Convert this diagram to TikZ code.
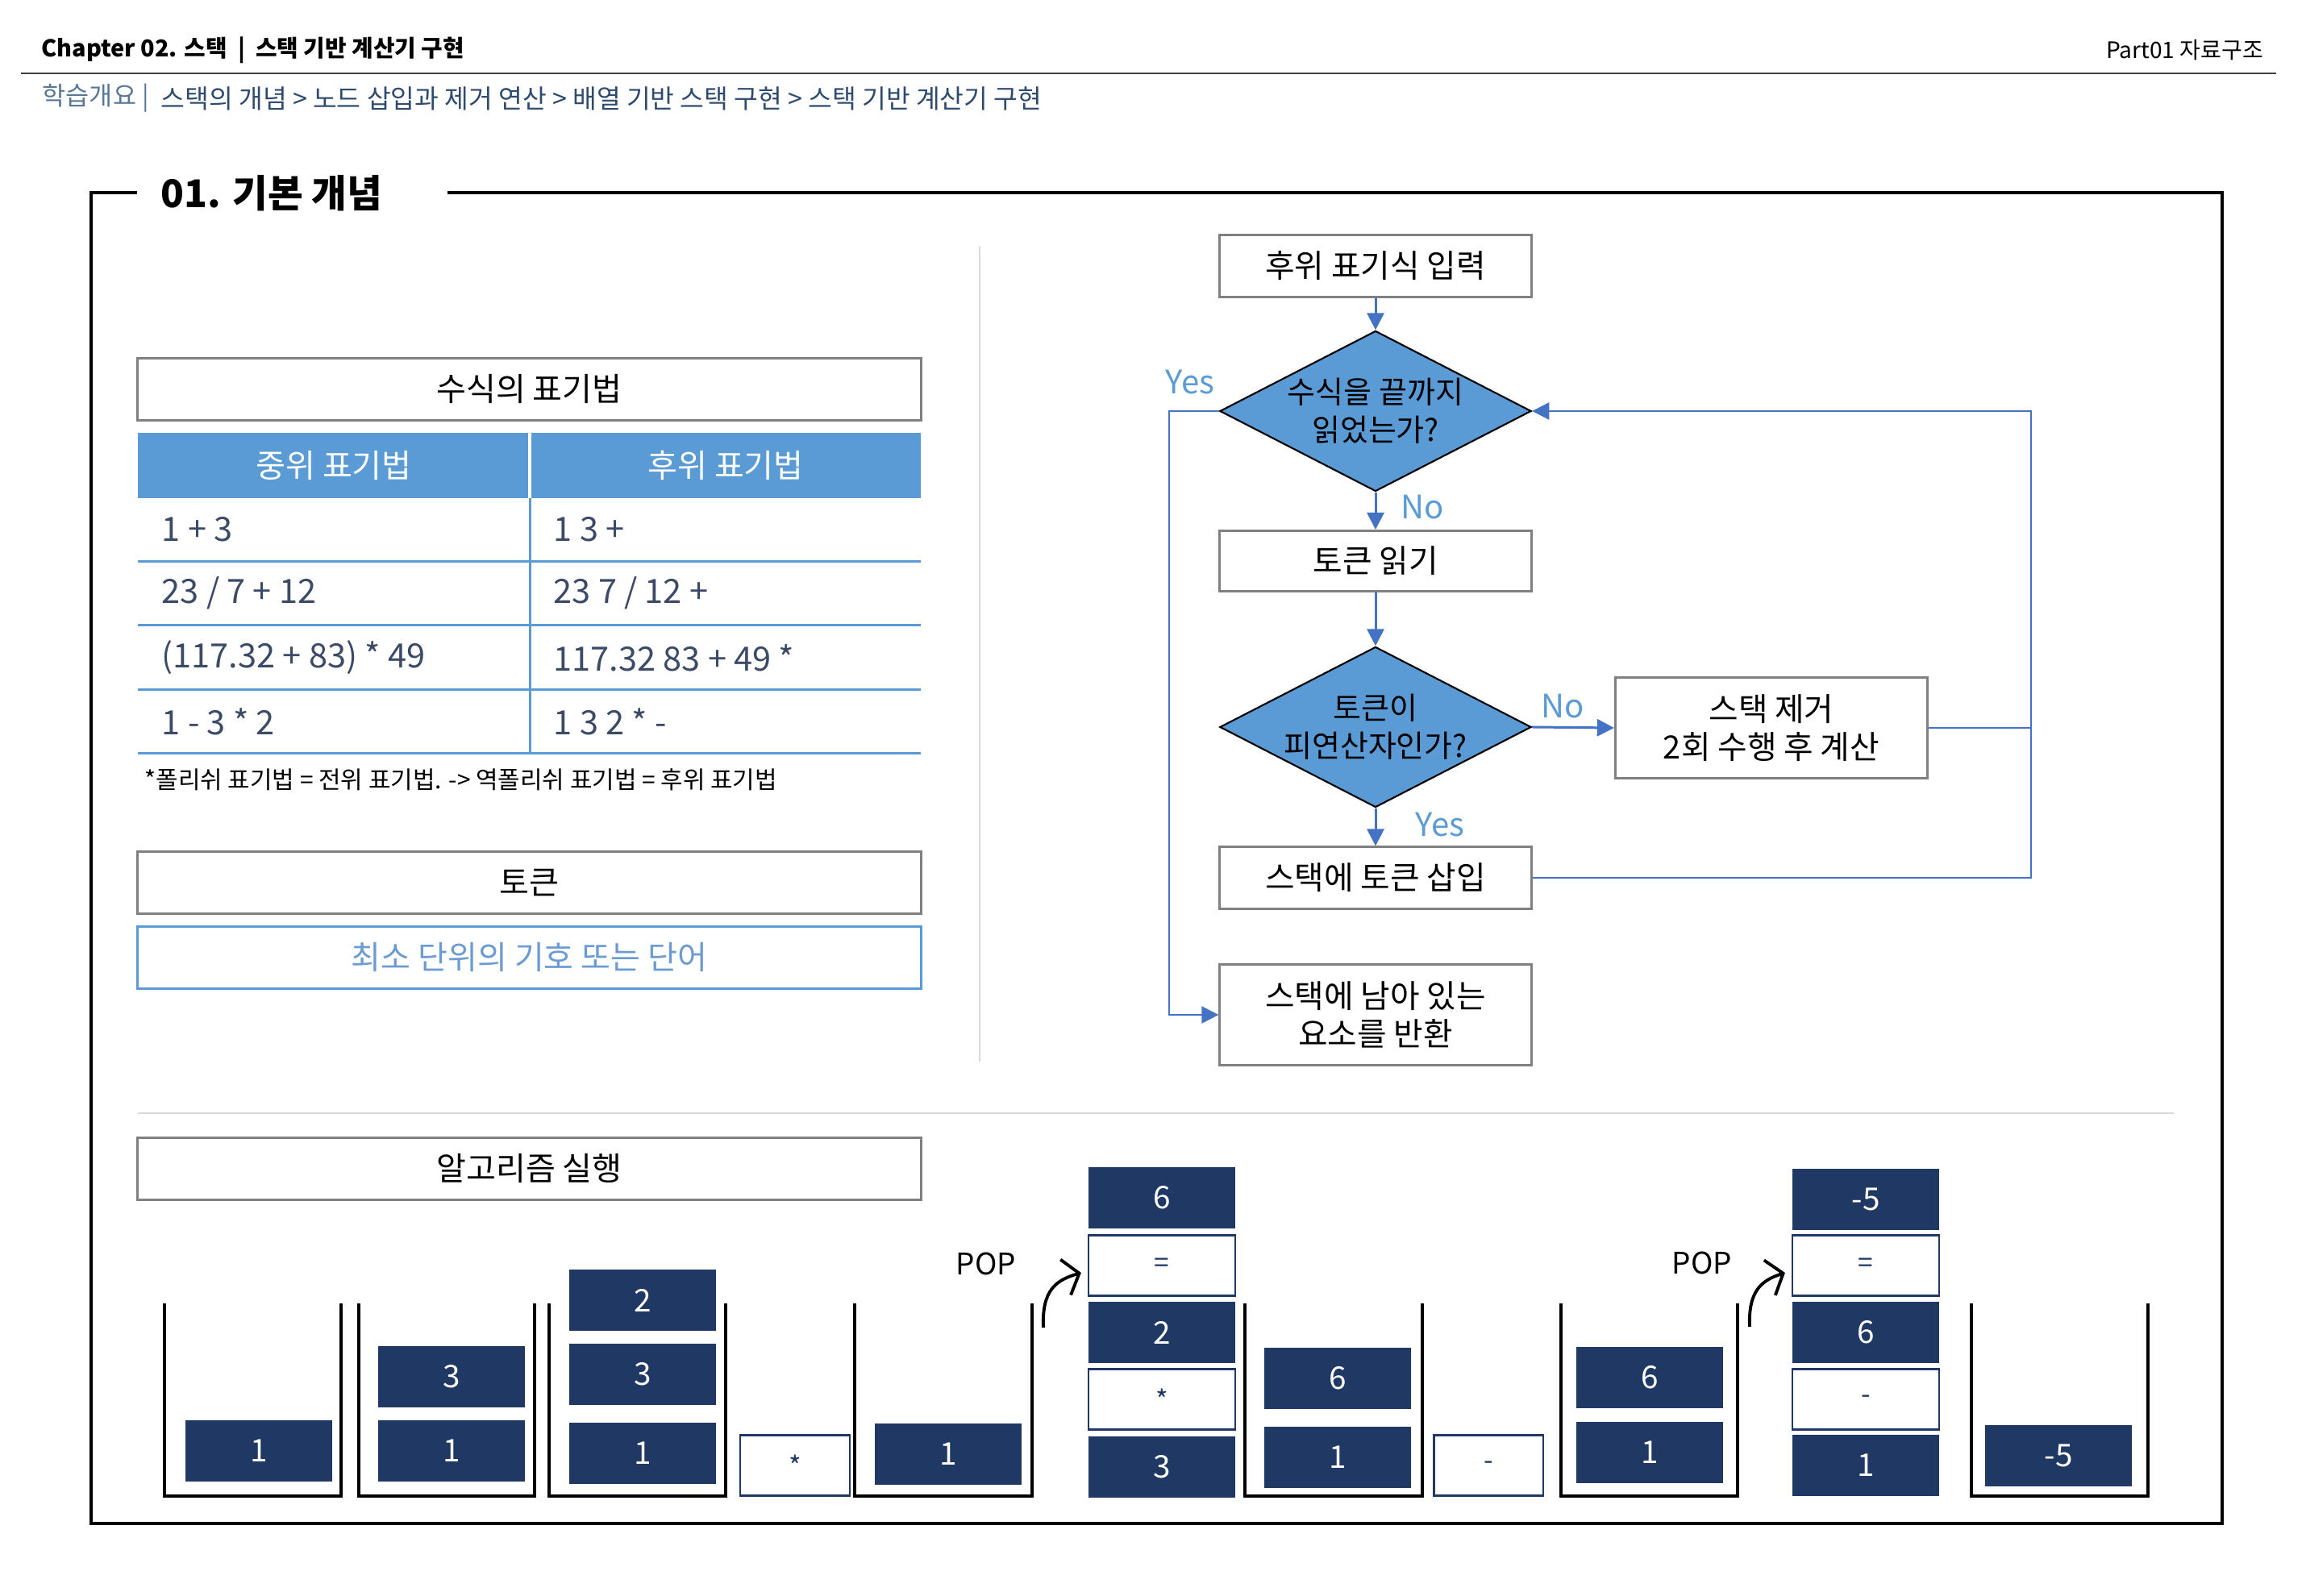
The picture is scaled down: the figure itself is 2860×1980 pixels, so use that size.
\documentclass[tikz,border=0pt]{standalone}
\usepackage{fontspec}
\setmainfont{Noto Sans CJK KR}
\usetikzlibrary{arrows.meta}
\usetikzlibrary{shapes.geometric}

\definecolor{flowblue}{HTML}{5B9BD5}
\definecolor{hdblue}{HTML}{5B9BD5}
\definecolor{arrowblue}{HTML}{4472C4}
\definecolor{boxgray}{HTML}{808080}
\definecolor{navy}{HTML}{203864}
\definecolor{rowtext}{HTML}{3B4A66}
\definecolor{crumbgray}{HTML}{5A7896}
\definecolor{crumbblue}{HTML}{2E4A6E}
\definecolor{sepgray}{HTML}{D9D9D9}
\definecolor{tokblue}{HTML}{6C9BD2}
\definecolor{rulegray}{HTML}{404040}

\tikzset{
  flowbox/.style={draw=boxgray, line width=0.85pt, fill=white, minimum width=3.86cm,
    inner sep=0pt, align=center, font=\fontsize{11.3}{13.5}\selectfont},
  decision/.style={diamond, draw=black, line width=0.6pt, fill=flowblue, aspect=1.94,
    minimum width=3.86cm, minimum height=1.99cm, inner sep=-3pt, align=center,
    font=\fontsize{10.8}{13.5}\selectfont},
  flowline/.style={draw=arrowblue, line width=0.85pt},
  loopline/.style={draw=arrowblue, line width=0.6pt},
  yesno/.style={text=flowblue, font=\fontsize{11.4}{13}\selectfont},
  titlebox/.style={draw=boxgray, line width=0.85pt, minimum width=9.71cm, minimum height=0.77cm,
    inner sep=0pt, font=\fontsize{11.4}{13}\selectfont},
  cell/.style={anchor=west, inner sep=0pt, text=rowtext, font=\fontsize{11.8}{13}\selectfont},
  rowline/.style={draw=hdblue, line width=0.85pt},
  tok/.style={fill=navy, text=white, minimum width=1.82cm, minimum height=0.75cm,
    inner sep=0pt, font=\fontsize{11}{13}\selectfont},
  optok/.style={fill=white, draw=navy, line width=0.6pt, text=navy, minimum width=1.82cm,
    minimum height=0.75cm, inner sep=0pt, font=\fontsize{9.5}{10}\selectfont},
  wall/.style={draw=black, line width=1.15pt},
  popline/.style={draw=black, line width=1.1pt, -{Straight Barb[length=5pt,width=13pt]}},
}

\begin{document}
\begin{tikzpicture}[x=0.01cm, y=-0.01cm, >={Triangle[length=6pt,width=6pt]}]
    \useasboundingbox (0,0) rectangle (2860,1980);
    %% header
    \node[anchor=west, inner sep=0pt, font=\fontsize{8.2}{10}\selectfont\bfseries] (chap) at (51,62)
      {Chapter 02. 스택 \ | \ 스택 기반 계산기 구현};
    \node[anchor=east, inner sep=0pt, font=\fontsize{8}{10}\selectfont] (part) at (2808,62) {Part01 자료구조};
    \draw[rulegray, line width=0.6pt] (26,91) -- (2823,91);
    \node[anchor=west, inner sep=0pt, text=crumbgray, font=\fontsize{9}{10}\selectfont] (crumb) at (52,122) {학습개요 |};
    \node[anchor=west, inner sep=0pt, text=crumbblue, font=\fontsize{9.2}{10}\selectfont] (path) at (199,122)
      {스택의 개념 > 노드 삽입과 제거 연산 > 배열 기반 스택 구현 > 스택 기반 계산기 구현};
    %% frame
    \draw[line width=1pt] (170,239) -| (113,1890) -| (2756,239) -- (555,239);
    \node[anchor=west, inner sep=0pt, font=\fontsize{13.5}{15}\selectfont\bfseries] (title) at (199,240) {01. 기본 개념};
    \draw[sepgray, line width=0.5pt] (1215,306) -- (1215,1317);
    \draw[sepgray, line width=0.5pt] (171,1381) -- (2696,1381);
    %% table
    \node[titlebox] (tabtitle) at (656.5,483) {수식의 표기법};
    \fill[hdblue] (171,537) rectangle (1142,618);
    \draw[white, line width=1pt] (657,537) -- (657,618);
    \node[text=white, font=\fontsize{11.4}{13}\selectfont] (hin) at (414,577) {중위 표기법};
    \node[text=white, font=\fontsize{11.4}{13}\selectfont] (hpost) at (900,577) {후위 표기법};
    \draw[rowline] (171,697) -- (1142,697);
    \draw[rowline] (171,776) -- (1142,776);
    \draw[rowline] (171,856) -- (1142,856);
    \draw[rowline] (171,935) -- (1142,935);
    \draw[rowline] (657,618) -- (657,935);
    \node[cell] (r1in) at (200,657) {1 + 3};
    \node[cell] (r1post) at (686,657) {1 3 +};
    \node[cell] (r2in) at (200,736) {23 / 7 + 12};
    \node[cell] (r2post) at (686,736) {23 7 / 12 +};
    \node[cell] (r3in) at (200,816) {(117.32 + 83) * 49};
    \node[cell] (r3post) at (686,816) {117.32 83 + 49 *};
    \node[cell] (r4in) at (200,895) {1 - 3 * 2};
    \node[cell] (r4post) at (686,895) {1 3 2 * -};
    \node[anchor=west, inner sep=0pt, font=\fontsize{8.5}{10}\selectfont] (note) at (179,967)
      {*폴리쉬 표기법 = 전위 표기법. -> 역폴리쉬 표기법 = 후위 표기법};
    %% token
    \node[titlebox] (token) at (656.5,1095) {토큰};
    \node[titlebox, draw=hdblue, text=tokblue] (tokdef) at (656.5,1188) {최소 단위의 기호 또는 단어};
    %% flowchart
    \node[flowbox, minimum height=0.76cm] (input) at (1706,330) {후위 표기식 입력};
    \node[decision] (endq) at (1706,510) {수식을 끝까지\\읽었는가?};
    \node[flowbox, minimum height=0.75cm] (read) at (1706,696) {토큰 읽기};
    \node[decision] (operq) at (1706,902) {토큰이\\피연산자인가?};
    \node[flowbox, minimum width=3.87cm, minimum height=1.25cm] (calc) at (2197,903) {스택 제거\\2회 수행 후 계산};
    \node[flowbox, minimum height=0.76cm] (push) at (1706,1089) {스택에 토큰 삽입};
    \node[flowbox, minimum height=1.25cm] (result) at (1706,1259) {스택에 남아 있는\\요소를 반환};
    \coordinate (rloop) at (2519,700);
    \coordinate (lloop) at (1450,900);
    \draw[flowline, ->] (input.south) -- (endq.north);
    \draw[flowline, ->] (endq.south) -- (read.north);
    \draw[flowline, ->] (read.south) -- (operq.north);
    \draw[flowline, ->] (operq.south) -- (push.north);
    \draw[flowline, ->] (operq.east) -- (calc.west);
    \draw[loopline, ->] (push.east) -| (rloop) |- (endq.east);
    \draw[loopline] (calc.east) -- (calc.east -| rloop);
    \draw[loopline, ->] (endq.west) -| (lloop) |- (result.west);
    \node[yesno] (yes1) at (1476,474) {Yes};
    \node[yesno] (no1) at (1764,629) {No};
    \node[yesno] (no2) at (1938,876) {No};
    \node[yesno] (yes2) at (1786,1023) {Yes};
    %% run
    \node[titlebox] (run) at (656.5,1450) {알고리즘 실행};
    \draw[wall] (204,1617) |- (423,1856) -- (423,1617);
    \draw[wall] (445,1617) |- (663,1856) -- (663,1617);
    \draw[wall] (681,1617) |- (900,1856) -- (900,1617);
    \draw[wall] (1060,1617) |- (1280,1856) -- (1280,1617);
    \draw[wall] (1544,1617) |- (1764,1856) -- (1764,1617);
    \draw[wall] (1936,1617) |- (2155,1856) -- (2155,1617);
    \draw[wall] (2445,1617) |- (2664,1856) -- (2664,1617);
    \node[tok] (s1a) at (321,1800) {1};
    \node[tok] (s2a) at (560,1800) {1};
    \node[tok] (s2b) at (560,1708) {3};
    \node[tok] (s3a) at (797,1803) {1};
    \node[tok] (s3b) at (797,1705) {3};
    \node[tok] (s3c) at (797,1613) {2};
    \node[optok, minimum width=1.36cm] (mul) at (986,1818) {*};
    \node[tok] (s4a) at (1176,1804) {1};
    \node[tok] (colA1) at (1441,1820) {3};
    \node[optok] (colA2) at (1441,1736) {*};
    \node[tok] (colA3) at (1441,1653) {2};
    \node[optok] (eqA) at (1441,1570) {=};
    \node[tok] (colA5) at (1441,1486) {6};
    \node[tok] (s5a) at (1659,1808) {1};
    \node[tok] (s5b) at (1659,1710) {6};
    \node[optok, minimum width=1.35cm] (sub) at (1846,1818) {-};
    \node[tok] (s6a) at (2046,1802) {1};
    \node[tok] (s6b) at (2046,1709) {6};
    \node[tok] (colB1) at (2314,1818) {1};
    \node[optok] (colB2) at (2314,1736) {-};
    \node[tok] (colB3) at (2314,1653) {6};
    \node[optok] (eqB) at (2314,1570) {=};
    \node[tok] (colB5) at (2314,1488) {-5};
    \node[tok] (s7a) at (2553,1806) {-5};
    \node[font=\fontsize{10.5}{12}\selectfont] (pop1) at (1223,1568) {POP};
    \node[font=\fontsize{10.5}{12}\selectfont] (pop2) at (2111,1567) {POP};
    \coordinate (pop1s) at (1294,1647);
    \coordinate (pop2s) at (2170,1646);
    \draw[popline] (pop1s) .. controls (1292,1600) and (1310,1588) .. ([xshift=-0.08cm,yshift=-0.09cm]eqA.west);
    \draw[popline] (pop2s) .. controls (2168,1600) and (2186,1588) .. ([xshift=-0.08cm,yshift=-0.09cm]eqB.west);
\end{tikzpicture}
\end{document}
